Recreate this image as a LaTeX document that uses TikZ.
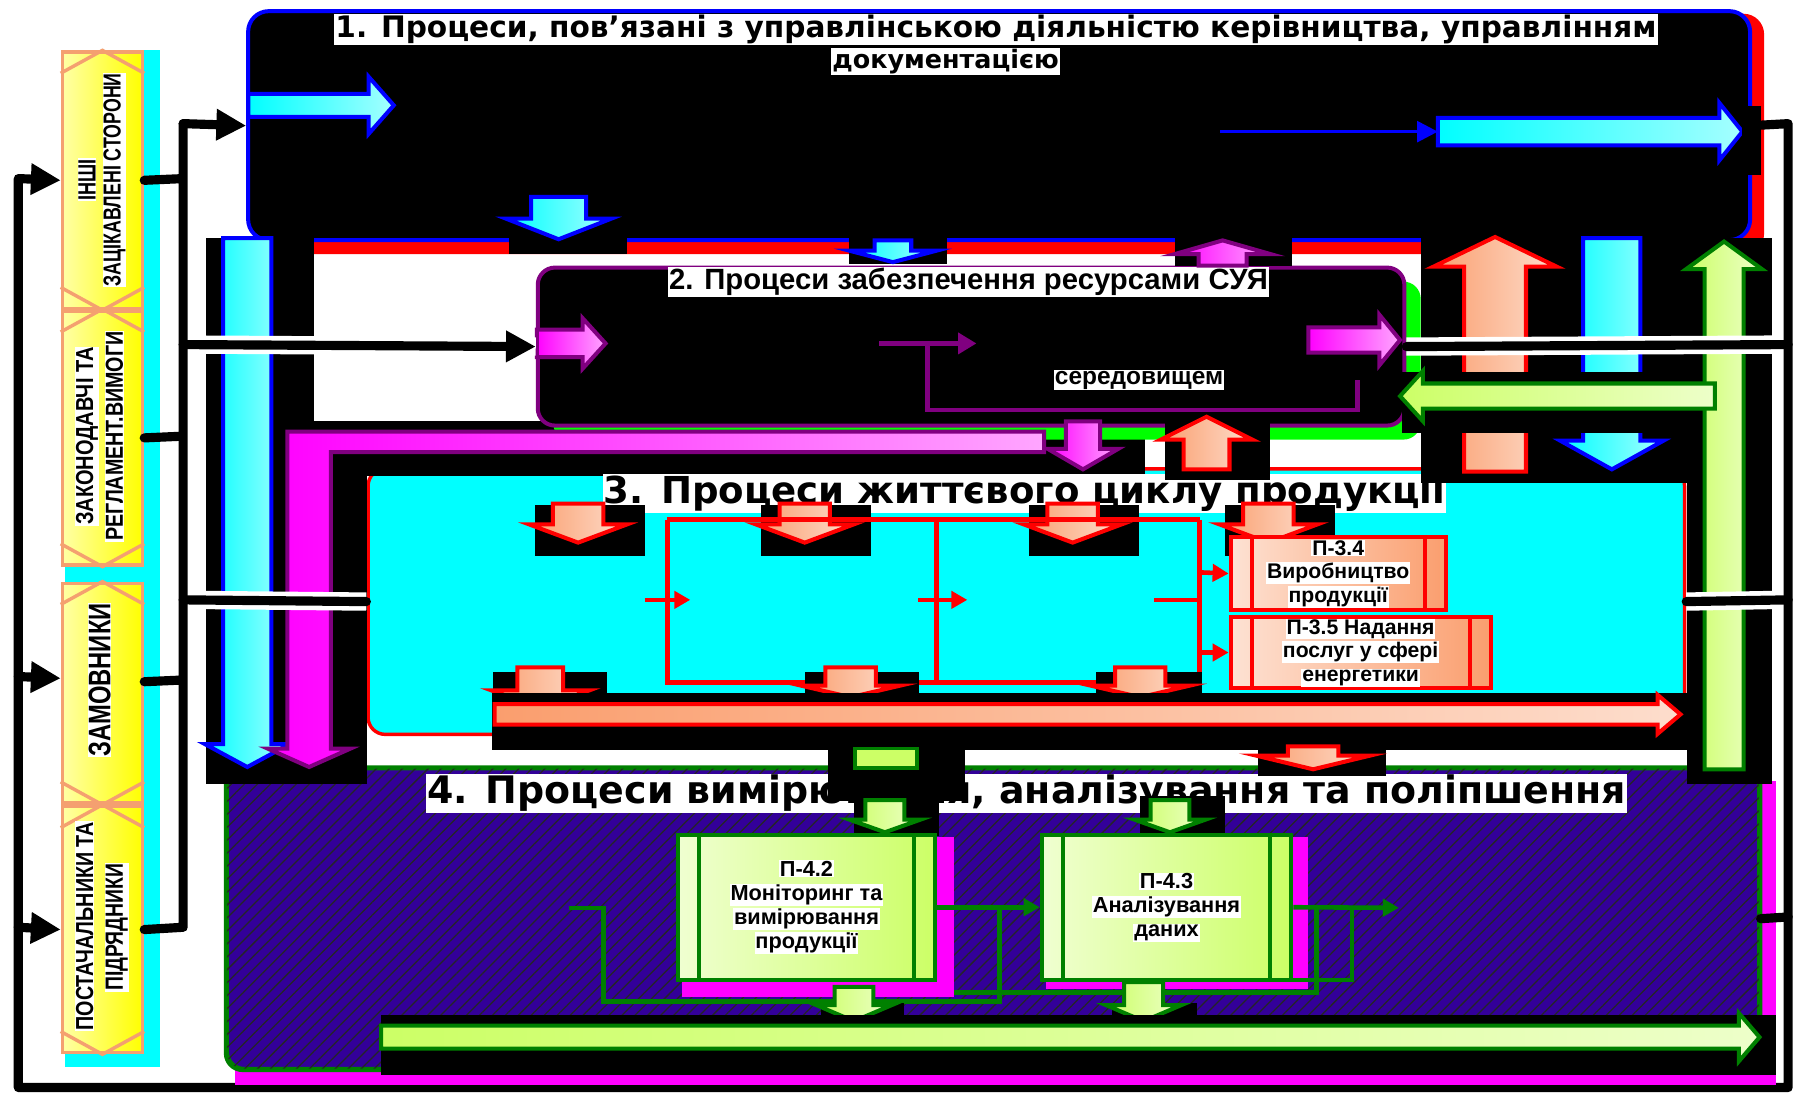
\documentclass[tikz,border=0pt]{standalone}
\usepackage{fontspec}
\usepackage{graphicx}
\setmainfont{Liberation Sans}
\newfontfamily\wide{DejaVu Sans}
\usetikzlibrary{arrows.meta,patterns.meta,calc}
\definecolor{salm}{HTML}{FA9E6E}
\definecolor{lgrn}{HTML}{CCFF66}
\definecolor{dgrn}{HTML}{008000}
\definecolor{indg}{HTML}{330099}
\definecolor{orng}{HTML}{F4A070}
\definecolor{purp}{HTML}{800080}
\definecolor{cyn}{HTML}{00FFFF}
\definecolor{mag}{HTML}{FF00FF}
\definecolor{yel}{HTML}{FFFF00}
\definecolor{grn}{HTML}{00FF00}
\definecolor{rd}{HTML}{FF0000}
\definecolor{bl}{HTML}{0000FF}
\newcommand\blkR[7]{\path[#7] (#1,{#3-#4}) -- ({#2-#6},{#3-#4}) -- ({#2-#6},{#3-#5}) -- (#2,#3) -- ({#2-#6},{#3+#5}) -- ({#2-#6},{#3+#4}) -- (#1,{#3+#4}) -- cycle;}
\newcommand\blkL[7]{\path[#7] (#1,{#3-#4}) -- ({#2+#6},{#3-#4}) -- ({#2+#6},{#3-#5}) -- (#2,#3) -- ({#2+#6},{#3+#5}) -- ({#2+#6},{#3+#4}) -- (#1,{#3+#4}) -- cycle;}
\newcommand\blkD[7]{\path[#7] ({#1-#4},#2) -- ({#1-#4},{#3-#6}) -- ({#1-#5},{#3-#6}) -- (#1,#3) -- ({#1+#5},{#3-#6}) -- ({#1+#4},{#3-#6}) -- ({#1+#4},#2) -- cycle;}
\newcommand\blkU[7]{\path[#7] ({#1-#4},#2) -- ({#1-#4},{#3+#6}) -- ({#1-#5},{#3+#6}) -- (#1,#3) -- ({#1+#5},{#3+#6}) -- ({#1+#4},{#3+#6}) -- ({#1+#4},#2) -- cycle;}
\newcommand\wb[1]{{\setlength{\fboxsep}{0.8pt}\colorbox{white}{#1}}}
\newcommand\innerv[3]{\draw[#3, line width=3.5pt] ($(#1.north west)+(#2,0)$) -- ($(#1.south west)+(#2,0)$) ($(#1.north east)+(-#2,0)$) -- ($(#1.south east)+(-#2,0)$);}
\tikzset{
 conn/.style={line width=8pt, draw=black, line cap=round, line join=round},
 casing/.style={line width=16pt, draw=white},
 tipA/.style={-{Triangle[length=26pt,width=26pt]}},
 cyanar/.style={draw=bl, line width=3.5pt, left color=cyn, right color=cyn!35!white},
 magar/.style={draw=purp, line width=3.5pt, left color=mag, right color=mag!35!white},
 salar/.style={draw=rd, line width=3.5pt, left color=salm, right color=salm!35!white},
 grar/.style={draw=dgrn, line width=3.5pt, left color=lgrn, right color=lgrn!35!white},
 sbox/.style={draw=orng, line width=3pt, left color=yel!35!white, right color=yel, anchor=north west, minimum width=70pt, inner sep=0pt},
 slab/.style={rotate=90, fill=white, inner sep=0.6pt},
 ttl/.style={fill=white, inner sep=1pt},
 bigbox/.style={anchor=north west, inner sep=0pt, rounded corners=15pt},
 pr3/.style={draw=rd, line width=3.5pt, left color=salm!30!white, right color=salm, inner sep=0pt, align=center, font=\bfseries\fontsize{18.5}{20.5}\selectfont},
 pr4/.style={draw=dgrn, line width=3.5pt, left color=lgrn!30!white, right color=lgrn, inner sep=0pt, align=center, font=\bfseries\fontsize{19}{21}\selectfont},
 gline/.style={draw=dgrn, line width=4pt},
 rline/.style={draw=rd, line width=4pt},
 smalltip/.style={-{Triangle[length=14pt,width=15pt]}},
}
\begin{document}
\begin{tikzpicture}[x=1pt,y=-1pt,every node/.style={font=\bfseries}]
\useasboundingbox (0,0) rectangle (1568,955);
\fill[white] (0,0) rectangle (1568,955);
% ---------- stakeholders
\fill[cyn] (57,44) rectangle (140,932);
\node[sbox, minimum height=224pt] (s1) at (53,44) {};
\node[sbox, minimum height=222pt] (s2) at (53,270) {};
\node[sbox, minimum height=192pt] (s3) at (53,508) {};
\node[sbox, minimum height=215pt] (s4) at (53,703) {};
\foreach \n in {s1,s2,s3,s4}{
 \draw[orng,line width=3pt] ($(\n.north west)+(0,20)$) -- (\n.north) -- ($(\n.north east)+(0,20)$)
   ($(\n.south west)+(0,-20)$) -- (\n.south) -- ($(\n.south east)+(0,-20)$);}
\node[slab] (l1a) at (76,157) {\resizebox{36pt}{15pt}{ІНШІ}};
\node[slab] (l1b) at (100,157) {\resizebox{186pt}{15pt}{ЗАЦІКАВЛЕНІ СТОРОНИ}};
\node[slab] (l2a) at (76,381) {\resizebox{155pt}{15pt}{ЗАКОНОДАВЧІ ТА}};
\node[slab] (l2b) at (100,381) {\resizebox{183pt}{15pt}{РЕГЛАМЕНТ.ВИМОГИ}};
\node[slab] (l3) at (87,594) {\resizebox{134pt}{19pt}{ЗАМОВНИКИ}};
\node[slab] (l4a) at (74,809) {\resizebox{182pt}{15pt}{ПОСТАЧАЛЬНИКИ ТА}};
\node[slab] (l4b) at (102,810) {\resizebox{111pt}{15pt}{ПІДРЯДНИКИ}};
% ---------- box 1
\fill[rd, rounded corners=18pt] (227,12) rectangle (1541,222);
\node[bigbox, draw=bl, line width=3.5pt, fill=black, rounded corners=18pt, minimum width=1312pt, minimum height=200pt] (box1) at (215,8) {};
\node[ttl] (t1) at (870,26) {\resizebox{1154pt}{!}{\wide\bfseries\fontsize{24}{26}\selectfont 1. Процеси, пов’язані з управлінською діяльністю керівництва, управлінням}};
\node[ttl] (t1b) at (826,54) {\resizebox{198pt}{!}{\wide\bfseries\fontsize{24}{26}\selectfont документацією}};
\blkR{217}{344}{92}{10}{25}{22}{cyanar}
\draw[bl, line width=3pt, -{Triangle[length=18pt,width=18pt]}] (1066,115) -- (1256,115);
\blkR{1256}{1522}{115}{12}{25}{20}{cyanar}
\fill[black] (1522,93) rectangle (1538,153);
\fill[black] (445,190) rectangle (548,222);
\blkD{488}{172}{209}{24}{46}{18}{cyanar}
% ---------- loop + bracket
\draw[conn,tipA] (box1.east) -- (1562,108) -- (1562,950) -- (16,950) -- (16,156) -- (s1.west);
\draw[conn,tipA] (16,591) -- ($(s3.west)+(0,-13)$);
\draw[conn,tipA] (16,810) -- (s4.west);
\draw[conn] (s1.east) -- (160,156) (s2.east) -- (160,381) ($(s3.east)+(0,-10)$) -- (160,594) (s4.east) -- (160,810) (160,108) -- (160,810);
\draw[conn,tipA] (160,108) -- (box1.west);
% ---------- box 4 base
\fill[mag] (205,682) rectangle (1551,948);
\node[bigbox, draw=dgrn, line width=3pt, fill=indg, minimum width=1338pt, minimum height=262pt] (box4) at (197,670) {};
\fill[pattern={Lines[angle=45,distance=8pt,line width=1.1pt]}, pattern color=black!85, rounded corners=15pt] (box4.north west) rectangle (box4.south east);
\draw[dgrn, line width=3pt, rounded corners=15pt] (box4.north west) rectangle (box4.south east);
% ---------- box 3
\node[bigbox, draw=rd, line width=3pt, fill=cyn, minimum width=1150pt, minimum height=232pt] (box3) at (320,408) {};
\fill[black] (285,368) rectangle (1000,416);
\node[ttl] (t3) at (895,431) {\resizebox{735pt}{!}{\wide\bfseries\fontsize{30}{32}\selectfont 3. Процеси життєвого циклу продукції}};
\foreach \x in {505,703,937,1108}{
 \fill[black] ({\x-38},441) rectangle ({\x+58},486);
 \blkD{\x}{440}{474}{22}{43}{16}{salar}}
\draw[rline] (583,454) -- (1048,454) (583,454) -- (583,596) -- (1048,596) (818,454) -- (818,596) (1048,454) -- (1048,596);
\draw[rline,smalltip] (563,524) -- (603,524);
\draw[rline,smalltip] (802,524) -- (845,524);
\draw[rline] (1008,524) -- (1048,524);
\node[pr3, minimum width=188pt, minimum height=64pt] (p34) at (1169,501) {\wb{П-3.4}\\\wb{Виробництво}\\\wb{продукції}};
\innerv{p34}{20}{rd}
\node[pr3, minimum width=227pt, minimum height=62pt] (p35) at (1188.5,570) {\wb{П-3.5 Надання}\\\wb{послуг у сфері}\\\wb{енергетики}};
\innerv{p35}{20}{rd}
\draw[rline,smalltip] (1048,500) -- (p34.west);
\draw[rline,smalltip] (1048,570) -- (p35.west);
\fill[black] (431,587) rectangle (530,612);
\blkD{472}{583}{619}{20}{43}{16}{salar}
\fill[black] (703,587) rectangle (803,612);
\blkD{743}{583}{609}{22}{43}{10}{salar}
\fill[black] (957,587) rectangle (1050,612);
\blkD{996}{583}{609}{22}{43}{10}{salar}
\fill[black] (430,605) rectangle (1478,655);
\blkR{432}{1468}{624}{9}{17}{20}{salar}
% ---------- box 2
\fill[grn, rounded corners=15pt] (483,246) rectangle (1241,384);
\node[bigbox, draw=purp, line width=3.5pt, fill=black, minimum width=757pt, minimum height=138pt] (box2) at (468,232) {};
\node[ttl] (t2) at (846,246) {\resizebox{523pt}{!}{\fontsize{22}{24}\selectfont 2. Процеси забезпечення ресурсами СУЯ}};
\blkR{469}{529}{300}{12}{22}{20}{magar}
\blkR{1143}{1223}{297}{11}{22}{18}{magar}
\draw[purp, line width=4pt, -{Triangle[length=16pt,width=18pt]}] (768,300) -- (853,300);
\draw[purp, line width=4pt] (810,300) -- (810,358) -- (1186,358) -- (1186,332);
\node[ttl] (t2b) at (995,332) {\resizebox{147pt}{!}{\fontsize{20}{22}\selectfont середовищем}};
% ---------- small arrows between boxes
\fill[black] (742,208) rectangle (827,231);
\blkD{780}{210}{229}{16}{38}{10}{cyanar}
\fill[black] (1026,208) rectangle (1129,232);
\blkU{1068}{232}{210}{21}{42}{12}{magar}
\blkD{946}{368}{410}{15}{31}{18}{magar}
\fill[black] (1018,368) rectangle (1109,419);
\blkU{1054}{410}{364}{20}{40}{20}{salar}
% ---------- left vertical arrows
\fill[black] (180,208) rectangle (274,685);
\fill[black] (274,368) rectangle (321,685);
\blkD{216}{208}{670}{21}{37}{20}{cyanar}
\path[magar] (912,377) -- (251,377) -- (251,654) -- (234,654) -- (270,670) -- (306,654) -- (289,654) -- (289,395) -- (912,395) -- cycle;
% ---------- right vertical arrows
\fill[black] (1241,208) rectangle (1474,422);
\fill[black] (1474,208) rectangle (1548,685);
\blkU{1306}{412}{207}{27}{54}{26}{salar}
\blkD{1408}{208}{410}{25}{45}{25}{cyanar}
\fill[black] (1225,325) rectangle (1510,378);
\blkU{1506}{672}{211}{17}{33}{24}{grar}
\blkL{1498}{1223}{346}{11}{22}{20}{grar}
% ---------- connectors with white casing
\draw[casing] (168,301) -- (box2.west);
\draw[conn,tipA] (160,301) -- (box2.west);
\draw[casing] (168,524) -- (box3.west);
\draw[conn] (160,524) -- (box3.west);
\draw[casing] (box2.east) -- (1554,301);
\draw[conn] (box2.east) -- (1562,301);
\draw[casing] (box3.east) -- (1554,524);
\draw[conn] (box3.east) -- (1562,524);
\draw[conn] (box4.east) -- (1562,801);
% ---------- box 4 contents
\node[ttl] (t4) at (897,693) {\resizebox{1047pt}{!}{\wide\bfseries\fontsize{30}{32}\selectfont 4. Процеси вимірювання, аналізування та поліпшення}};
\fill[black] (723,652) rectangle (843,700);
\draw[dgrn, line width=3pt, fill=lgrn] (747,654) rectangle (801,671);
\fill[black] (1099,655) rectangle (1211,678);
\blkD{1147}{652}{672}{22}{50}{12}{salar}
\fill[black] (746,695) rectangle (820,730);
\blkD{773}{699}{727}{17}{31}{11}{grar}
\fill[black] (996,695) rectangle (1070,730);
\blkD{1022}{699}{727}{17}{31}{11}{grar}
\fill[mag] (596,731) rectangle (833,871);
\fill[mag] (914,731) rectangle (1143,864);
\node[pr4, minimum width=225pt, minimum height=127pt] (p42) at (704.5,792.5) {\wb{П-4.2}\\\wb{Моніторинг та}\\\wb{вимірювання}\\\wb{продукції}};
\innerv{p42}{20}{dgrn}
\node[pr4, minimum width=218pt, minimum height=127pt] (p43) at (1019,792.5) {\wb{П-4.3}\\\wb{Аналізування}\\\wb{даних}};
\innerv{p43}{20}{dgrn}
\draw[gline] (497,793) -- (527,793) -- (527,875) -- (873,875) -- (873,793);
\draw[gline,smalltip] (p42.east) -- (p43.west);
\draw[gline,smalltip] (p43.east) -- (1222,793);
\draw[gline] (1150,793) -- (1150,867) -- (833,867);
\draw[gline] (1181,793) -- (1181,856) -- (1128,856);
\fill[black] (717,876) rectangle (790,906);
\blkD{746}{862}{892}{17}{33}{14}{grar}
\fill[black] (971,876) rectangle (1046,906);
\blkD{999}{858}{892}{17}{33}{14}{grar}
\fill[black] (333,887) rectangle (1551,939);
\blkR{333}{1537}{906}{10}{21}{18}{grar}
\end{tikzpicture}
\end{document}
